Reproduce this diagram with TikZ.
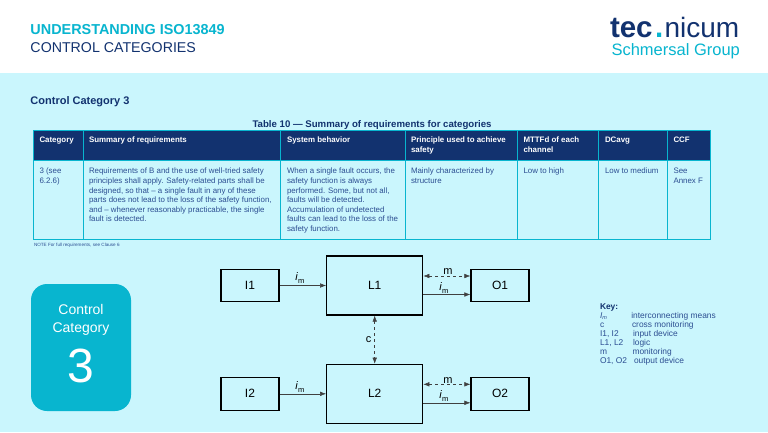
\documentclass[tikz,border=0pt]{standalone}
\usepackage{fontspec}
\setmainfont{Liberation Sans}
\usetikzlibrary{calc}
\usetikzlibrary{arrows.meta}
\definecolor{paleblue}{HTML}{CAF6FD}
\definecolor{navy}{HTML}{12326F}
\definecolor{teal}{HTML}{08B5CF}
\definecolor{bodyblue}{HTML}{2C4E92}
\tikzset{
    plain/.style={inner sep=0pt, outer sep=0pt, anchor=west},
    logotext/.style={plain, anchor=base west, font=\fontsize{28}{30}\selectfont},
    headtext/.style={plain, anchor=north west, align=left, text=white, font=\fontsize{7.9}{9.6}\selectfont\bfseries},
    celltext/.style={plain, anchor=north west, align=left, text=bodyblue, font=\fontsize{7.9}{9.65}\selectfont},
    keytext/.style={plain, text=bodyblue, font=\fontsize{8.4}{9}\selectfont},
    blockS/.style={draw=black, line width=1.1pt, minimum width=58pt, minimum height=32.5pt, inner sep=0pt, font=\fontsize{12}{14}\selectfont},
    blockL/.style={draw=black, line width=1.2pt, minimum width=96pt, minimum height=59pt, inner sep=0pt, font=\fontsize{12}{14}\selectfont},
    link/.style={line width=0.5pt, draw=black!75, -{Latex[length=6pt,width=4.5pt]}},
    twoway/.style={line width=0.5pt, draw=black!75, dashed, {Latex[length=6pt,width=4.5pt]}-{Latex[length=6pt,width=4.5pt]}},
    linklabel/.style={inner sep=0pt, font=\fontsize{11}{13}\selectfont}
}
\newcommand{\headcell}[4]{ \node[headtext] (#1) at (#2 , 137) {#3 #4}; }
\newcommand{\bodycell}[3]{ \node[celltext] (#1) at (#2 , 168) {#3}; }
\newcommand{\keyrow}[5]{ \node[keytext] (#1a) at (600 , #2) {#4}; \node[keytext] (#1b) at (#3 , #2) {#5}; }
\newcommand{\imark}{\textit{i}\raisebox{-3pt}{\fontsize{7.5}{8}\selectfont m}}
\begin{document}
\begin{tikzpicture}[x=1pt, y=-1pt]
        \useasboundingbox (0,0) rectangle (768,432);
        \fill[white] (0,0) rectangle (768,73);
        \fill[paleblue] (0,73) rectangle (768,432);
        % title
        \node[plain, text=teal, font=\fontsize{14.4}{16}\selectfont\bfseries] (title) at (30.5,29.5) {UNDERSTANDING ISO13849};
        \node[plain, text=navy, font=\fontsize{14.2}{16}\selectfont] (subtitle) at (30.5,47.5) {CONTROL CATEGORIES};
        % logo
        \node[logotext, text=navy, font=\fontsize{29.5}{30}\selectfont\bfseries] (logoA) at (610,37) {tec};
        \node[logotext, text=teal, font=\fontsize{29.5}{30}\selectfont\bfseries] (logoB) at (655,37) {.};
        \node[logotext, text=navy] (logoC) at (664.5,37) {nicum};
        \node[plain, text=teal, font=\fontsize{16.5}{18}\selectfont] (logoD) at (611.5,51) {Schmersal Group};
        % heading
        \node[plain, text=navy, font=\fontsize{11}{13}\selectfont\bfseries] (heading) at (30.5,101.5) {Control Category 3};
        \node[inner sep=0pt, text=navy, font=\fontsize{9.65}{11}\selectfont\bfseries] (tabletitle) at (372,124.7) {Table 10 — Summary of requirements for categories};
        % table
        \fill[navy] (33.7,130) rectangle (710,160);
        \draw[teal, line width=0.9pt] (33.7,130) rectangle (710,239.5);
        \draw[teal, line width=0.9pt] (33.7,160) -- (710,160);
        \foreach \colx in {83,280.7,405,517,598.7,667}
            \draw[teal, line width=0.9pt] (\colx,130) -- (\colx,239.5);
        % row1
        \headcell{hA}{39.5}{Category}{}
        \headcell{hB}{89}{Summary of requirements}{}
        \headcell{hC}{287}{System behavior}{}
        \headcell{hD}{411}{Principle used to achieve\\}{safety}
        \headcell{hE}{523.5}{MTTFd of each\\}{channel}
        \headcell{hF}{605}{DCavg}{}
        \headcell{hG}{673.5}{CCF}{}
        % row2
        \bodycell{bA}{39.5}{3 (see\\6.2.6)}
        \bodycell{bB}{89}{Requirements of B and the use of well-tried safety\\principles shall apply.  Safety-related parts shall be\\designed, so that – a single fault in any of these\\parts does not lead to the loss of the safety function,\\and – whenever reasonably practicable, the single\\fault is detected.}
        \bodycell{bC}{287}{When a single fault occurs, the\\safety function is always\\performed. Some, but not all,\\faults will be detected.\\Accumulation of undetected\\faults can lead to the loss of the\\safety function.}
        \bodycell{bD}{411}{Mainly characterized by\\structure}
        \bodycell{bE}{523.5}{Low to high}
        \bodycell{bF}{605}{Low to medium}
        \bodycell{bG}{673.5}{See\\Annex F}
        \node[plain, text=bodyblue, font=\fontsize{4.6}{5}\selectfont] (note) at (34,245) {NOTE For full requirements, see Clause 6};
        % card
        \fill[teal, rounded corners=16pt] (31,284) rectangle (131,411);
        \node[inner sep=0pt, text=white, align=center, font=\fontsize{14}{17.6}\selectfont] (cardtext) at (81,320) {Control\\Category};
        \node[inner sep=0pt, text=white, font=\fontsize{48}{50}\selectfont] (cardnum) at (81,366) {3};
        % blocks
        \node[blockS] (I1) at (250,285.5) {I1};
        \node[blockL] (L1) at (374.7,285.5) {L1};
        \node[blockS] (O1) at (500,285.5) {O1};
        \node[blockS] (I2) at (250,393.8) {I2};
        \node[blockL] (L2) at (374.7,393.8) {L2};
        \node[blockS] (O2) at (500,393.8) {O2};
        % links
        \draw[link] (I1) -- node[linklabel, above=1.5pt, xshift=-3pt] (imA) {\imark} (L1);
        \draw[link] (I2) -- node[linklabel, above=1.5pt, xshift=-3pt] (imB) {\imark} (L2);
        \draw[twoway] ([yshift=9.5pt]L1.east) -- node[linklabel, above=1pt, xshift=1pt] (mA) {m} ([yshift=9.5pt]O1.west |- L1.east);
        \draw[link] ([yshift=-9pt]L1.east) -- node[linklabel, above=1pt, xshift=-3pt] (imC) {\imark} ([yshift=-9pt]O1.west |- L1.east);
        \draw[twoway] ([yshift=9.5pt]L2.east) -- node[linklabel, above=1pt, xshift=1pt] (mB) {m} ([yshift=9.5pt]O2.west |- L2.east);
        \draw[link] ([yshift=-9pt]L2.east) -- node[linklabel, above=1pt, xshift=-3pt] (imD) {\imark} ([yshift=-9pt]O2.west |- L2.east);
        \draw[twoway] (L1) -- node[linklabel, left=3pt] (cross) {c} (L2);
        % key
        \node[plain, text=navy, font=\fontsize{8.4}{9}\selectfont\bfseries] (keyhead) at (600,307) {Key:};
        \keyrow{kA}{316}{631.3}{\textit{I}\raisebox{-1.5pt}{\fontsize{5.5}{6}\selectfont\itshape m}}{interconnecting means}
        \keyrow{kB}{325}{632}{c}{cross monitoring}
        \keyrow{kC}{334}{633}{I1, I2}{input device}
        \keyrow{kD}{343}{633}{L1, L2}{logic}
        \keyrow{kE}{352}{632.5}{m}{monitoring}
        \keyrow{kF}{361}{634}{O1, O2}{output device}
\end{tikzpicture}
\end{document}
